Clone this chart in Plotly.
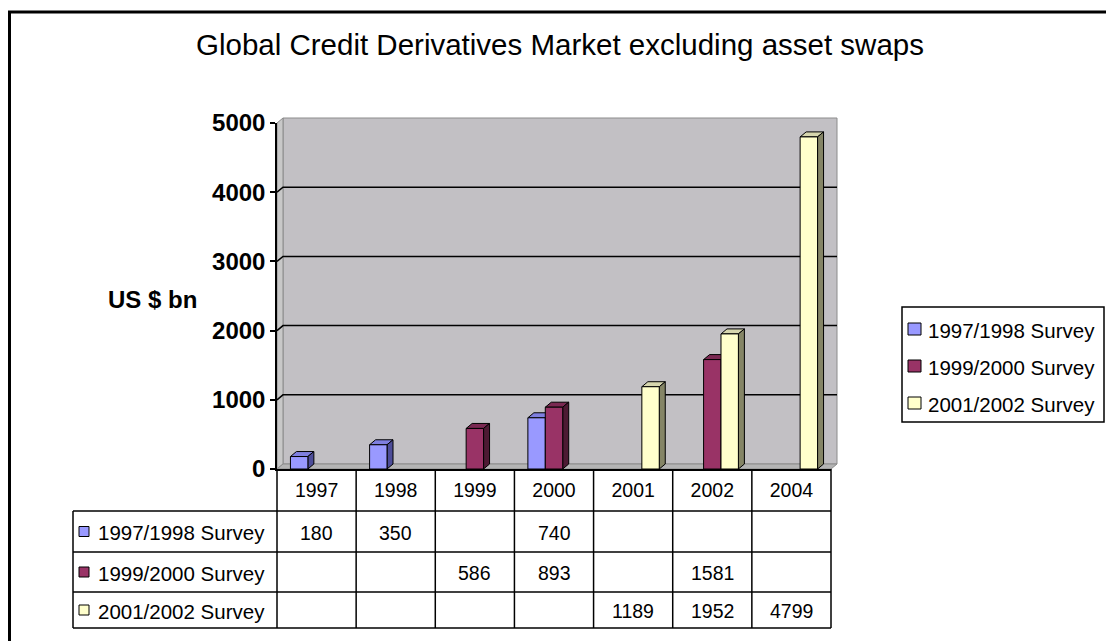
import plotly.graph_objects as go

# ---- data -------------------------------------------------------------
years = ["1997", "1998", "1999", "2000", "2001", "2002", "2004"]
survey_names = ["1997/1998 Survey", "1999/2000 Survey", "2001/2002 Survey"]
survey_9798 = [180, 350, None, 740, None, None, None]
survey_9900 = [None, None, 586, 893, None, 1581, None]
survey_0102 = [None, None, None, None, 1189, 1952, 4799]
y_ticks = [0, 1000, 2000, 3000, 4000, 5000]

series = [survey_9798, survey_9900, survey_0102]
front_colors = ["#9999FF", "#993366", "#FFFFCC"]
top_colors = ["#7F7FE0", "#7A2952", "#D6D6AE"]
side_colors = ["#4D4D99", "#4D1A33", "#858566"]

# ---- layout geometry (pixels) -------------------------------------------
W, H = 1106, 641
X_L, X_R = 277, 831          # x-axis domain
Y_B, Y_T = 469, 123          # y-axis domain (0 .. 5000)
Y_MAX = 5000
DX, DY = 6, 5                # 3D depth offset
ROWS = [469, 511, 552, 592, 628]
TABLE_LEFT = 73

n_cat = len(years)
col_w = (X_R - X_L) / n_cat
px_per_x = col_w                      # pixels per category unit
px_per_y = (Y_B - Y_T) / Y_MAX        # pixels per value unit
dx_data = DX / px_per_x
dy_data = DY / px_per_y
bar_w = 0.22


def px(x):
    return x / W


def py(y):
    return 1 - y / H


def yv(v):
    return Y_B - v * px_per_y


fig = go.Figure()

# front faces of the columns
for i, (name, vals) in enumerate(zip(survey_names, series)):
    fig.add_trace(go.Bar(
        x=list(range(n_cat)), y=vals, name=name,
        width=bar_w, offset=-1.5 * bar_w + i * bar_w,
        marker=dict(color=front_colors[i], line=dict(color="black", width=1)),
        showlegend=False, hoverinfo="x+y+name",
    ))

shapes = []
BLACK = dict(color="black", width=1.5)

# chart frame
shapes.append(dict(type="rect", xref="paper", yref="paper",
                   x0=px(9.5), x1=px(W + 20), y0=py(12), y1=py(H + 20),
                   line=dict(color="black", width=3), fillcolor="white", layer="below"))

# back wall, side wall and floor
wall = "#C2C0C4"
wall_edge = "#8C8C8C"
shapes.append(dict(type="rect", xref="paper", yref="paper",
                   x0=px(X_L + DX), x1=px(X_R + DX), y0=py(Y_B - DY), y1=py(Y_T - DY),
                   fillcolor=wall, line=dict(color=wall_edge, width=1), layer="below"))
shapes.append(dict(type="path", xref="paper", yref="paper",
                   path=f"M{px(X_L)},{py(Y_B)} L{px(X_L + DX)},{py(Y_B - DY)} "
                        f"L{px(X_L + DX)},{py(Y_T - DY)} L{px(X_L)},{py(Y_T)} Z",
                   fillcolor="#C8C8C8", line=dict(color=wall_edge, width=1), layer="below"))
shapes.append(dict(type="path", xref="paper", yref="paper",
                   path=f"M{px(X_L)},{py(Y_B)} L{px(X_L + DX)},{py(Y_B - DY)} "
                        f"L{px(X_R + DX)},{py(Y_B - DY)} L{px(X_R)},{py(Y_B)} Z",
                   fillcolor="#B4B4B4", line=dict(color=wall_edge, width=1), layer="below"))

# gridlines on the wall
for t in y_ticks[1:-1]:
    y0 = yv(t)
    shapes.append(dict(type="path", xref="paper", yref="paper",
                       path=f"M{px(X_L)},{py(y0)} L{px(X_L + DX)},{py(y0 - DY)} "
                            f"L{px(X_R + DX)},{py(y0 - DY)}",
                       line=dict(color="black", width=1.5), layer="below"))

# top and side faces of each column (data coordinates)
for i, vals in enumerate(series):
    for c, v in enumerate(vals):
        if v is None:
            continue
        x0 = c - 1.5 * bar_w + i * bar_w
        x1 = x0 + bar_w
        shapes.append(dict(type="path", xref="x", yref="y", layer="between",
                           path=f"M{x0},{v} L{x0 + dx_data},{v + dy_data} "
                                f"L{x1 + dx_data},{v + dy_data} L{x1},{v} Z",
                           fillcolor=top_colors[i], line=dict(color="black", width=1)))
        shapes.append(dict(type="path", xref="x", yref="y", layer="between",
                           path=f"M{x1},0 L{x1 + dx_data},{dy_data} "
                                f"L{x1 + dx_data},{v + dy_data} L{x1},{v} Z",
                           fillcolor=side_colors[i], line=dict(color="black", width=1)))

# data table grid
for k in range(n_cat + 1):
    xk = X_L + k * col_w
    shapes.append(dict(type="line", xref="paper", yref="paper",
                       x0=px(xk), x1=px(xk), y0=py(ROWS[0]), y1=py(ROWS[-1]), line=BLACK))
shapes.append(dict(type="line", xref="paper", yref="paper",
                   x0=px(TABLE_LEFT), x1=px(TABLE_LEFT), y0=py(ROWS[1]), y1=py(ROWS[-1]), line=BLACK))
for r in ROWS[1:]:
    shapes.append(dict(type="line", xref="paper", yref="paper",
                       x0=px(TABLE_LEFT), x1=px(X_R), y0=py(r), y1=py(r), line=BLACK))

annotations = []
FONT = "Arial, 'Liberation Sans', sans-serif"
TXT = dict(family=FONT, size=19.5, color="black")
LBL = dict(family=FONT, size=20.5, color="black")

# table rows: key square, series name, values
for i, (name, vals) in enumerate(zip(survey_names, series)):
    yc = (ROWS[i + 1] + ROWS[i + 2]) / 2
    shapes.append(dict(type="rect", xref="paper", yref="paper",
                       x0=px(79), x1=px(89), y0=py(yc - 5), y1=py(yc + 5),
                       fillcolor=front_colors[i], line=dict(color="black", width=1)))
    annotations.append(dict(xref="paper", yref="paper", x=px(96), y=py(yc + 1),
                            text=name, showarrow=False, xanchor="left", yanchor="middle",
                            font=LBL))
    for c, v in enumerate(vals):
        if v is None:
            continue
        annotations.append(dict(xref="x", yref="paper", x=c, y=py(yc + 1),
                                text=str(v), showarrow=False, xanchor="center",
                                yanchor="middle", font=TXT))

# legend
LEG_X0, LEG_X1, LEG_Y0, LEG_Y1 = 902, 1104, 307, 422
shapes.append(dict(type="rect", xref="paper", yref="paper",
                   x0=px(LEG_X0), x1=px(LEG_X1), y0=py(LEG_Y0), y1=py(LEG_Y1),
                   fillcolor="white", line=dict(color="black", width=1.5)))
for i, name in enumerate(survey_names):
    yc = 329 + i * 37
    shapes.append(dict(type="rect", xref="paper", yref="paper",
                       x0=px(908), x1=px(921), y0=py(yc - 6), y1=py(yc + 6),
                       fillcolor=front_colors[i], line=dict(color="black", width=1)))
    annotations.append(dict(xref="paper", yref="paper", x=px(926), y=py(yc + 1),
                            text=name, showarrow=False, xanchor="left", yanchor="middle",
                            font=LBL))

# y-axis title
annotations.append(dict(xref="paper", yref="paper", x=px(152), y=py(299),
                        text="<b>US $ bn</b>", showarrow=False, xanchor="center",
                        yanchor="middle", font=dict(family=FONT, size=24, color="black")))

fig.update_layout(
    width=W, height=H,
    margin=dict(l=0, r=0, t=0, b=0, pad=0),
    paper_bgcolor="white", plot_bgcolor="rgba(0,0,0,0)",
    barmode="overlay",
    showlegend=False,
    title=dict(text="Global Credit Derivatives Market excluding asset swaps",
               x=560 / W, xanchor="center", y=py(45), yanchor="middle",
               xref="paper", yref="paper", automargin=False,
               font=dict(family=FONT, size=29.5, color="black")),
    xaxis=dict(domain=[px(X_L), px(X_R)], range=[-0.5, n_cat - 0.5],
               tickvals=list(range(n_cat)), ticktext=years, ticks="",
               showgrid=False, zeroline=False, showline=True, linecolor="black",
               linewidth=1.5, tickfont=TXT, ticklabelstandoff=3, automargin=False),
    yaxis=dict(domain=[py(Y_B), py(Y_T)], range=[0, Y_MAX],
               tickvals=y_ticks, ticks="outside", ticklen=5, tickwidth=1.5,
               tickcolor="black", showgrid=False, zeroline=False, showline=True,
               linecolor="black", linewidth=1.5, automargin=False,
               tickfont=dict(family=FONT, size=24, color="black", weight="bold")),
    shapes=shapes,
    annotations=annotations,
)

fig.write_html("out.html")
